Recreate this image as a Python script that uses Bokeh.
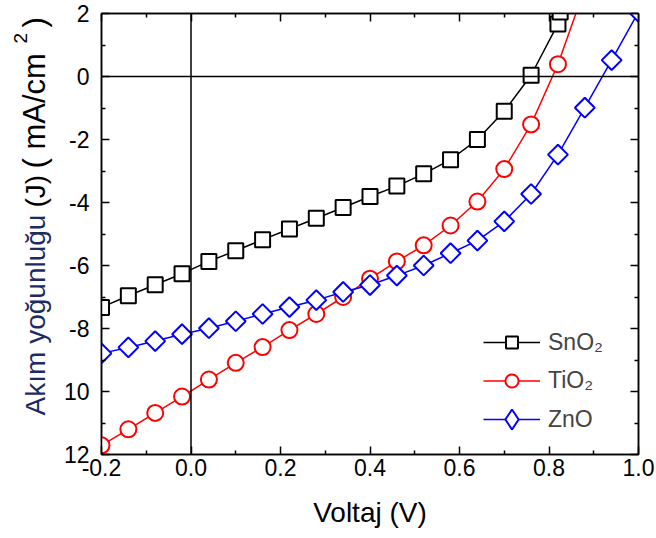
import math
from bokeh.plotting import figure
from bokeh.layouts import row
from bokeh.models import (Range1d, LinearAxis, FixedTicker, CustomJSTickFormatter,
                          Span, Legend, LegendItem)
from bokeh.core.properties import value
from bokeh.embed import file_html
from bokeh.resources import INLINE

# ---------------- data ----------------
sno2_x = [-0.20, -0.14, -0.08, -0.02, 0.04, 0.10, 0.16, 0.22, 0.28, 0.34, 0.40,
          0.46, 0.52, 0.58, 0.64, 0.70, 0.76, 0.82, 0.825]
sno2_y = [-7.33, -6.96, -6.61, -6.26, -5.87, -5.53, -5.18, -4.84, -4.50, -4.16, -3.81,
          -3.48, -3.09, -2.64, -2.00, -1.10, 0.04, 1.67, 2.05]

tio2_x = [-0.20, -0.14, -0.08, -0.02, 0.04, 0.10, 0.16, 0.22, 0.28, 0.34, 0.40,
          0.46, 0.52, 0.58, 0.64, 0.70, 0.76, 0.82, 0.88]
tio2_y = [-11.71, -11.20, -10.68, -10.16, -9.62, -9.09, -8.59, -8.05, -7.54, -7.00, -6.42,
          -5.87, -5.36, -4.73, -3.97, -2.94, -1.52, 0.39, 2.80]

zno_x = [-0.20, -0.14, -0.08, -0.02, 0.04, 0.10, 0.16, 0.22, 0.28, 0.34, 0.40,
         0.46, 0.52, 0.58, 0.64, 0.70, 0.76, 0.82, 0.88, 0.94, 1.00]
zno_y = [-8.79, -8.60, -8.40, -8.18, -7.99, -7.77, -7.54, -7.32, -7.10, -6.84, -6.62,
         -6.32, -6.00, -5.61, -5.21, -4.60, -3.73, -2.48, -0.99, 0.52, 2.05]

series_names = ["SnO\u2082", "TiO\u2082", "ZnO"]

x_ticks = [-0.2, 0.0, 0.2, 0.4, 0.6, 0.8, 1.0]
x_tick_labels = ["-0.2", "0.0", "0.2", "0.4", "0.6", "0.8", "1.0"]
x_minor = [-0.1, 0.1, 0.3, 0.5, 0.7, 0.9]
y_ticks = [-12, -10, -8, -6, -4, -2, 0, 2]
y_tick_labels = ["12", "10", "-8", "-6", "-4", "-2", "0", "2"]
y_minor = [-11, -9, -7, -5, -3, -1, 1]

x_title = "Voltaj (V)"
y_title_parts = ["Akım yoğunluğu", "(J)", "( mA/cm", "2", ")"]
y_title_colors = ["#1d2b64", "black", "black", "black", "black"]
y_title_sizes = ["28px", "28px", "31px", "19px", "31px"]

FONT = "Liberation Sans"
TOTAL_W, TOTAL_H, LEFT_W = 656, 536, 60
B_TOP, B_BOTTOM = 13, 82            # borders above / below the plotting frame

# ---------------- y-title strip (left) ----------------
frame_top, frame_bottom = B_TOP, TOTAL_H - B_BOTTOM
lt = figure(width=LEFT_W, height=TOTAL_H, x_range=Range1d(0, LEFT_W),
            y_range=Range1d(frame_bottom, frame_top), output_backend="svg",
            toolbar_location=None, x_axis_location=None, y_axis_location=None,
            min_border_left=0, min_border_right=0,
            min_border_top=B_TOP, min_border_bottom=B_BOTTOM)
lt.xgrid.visible = False
lt.ygrid.visible = False
lt.outline_line_color = None
lt.background_fill_color = "white"
lt.border_fill_color = "white"
# centre of each part of the rotated title, in page pixels
title_cx = [35.3, 35.3, 34.3, 20.4, 34.3]
title_cy = [314.5, 190.7, 110.3, 37.7, 21.8]
for i, t in enumerate(y_title_parts):
    lt.text(x=[title_cx[i]], y=[title_cy[i]], text=[t], angle=math.pi / 2,
            text_font=value(FONT), text_font_size=value(y_title_sizes[i]),
            text_color=y_title_colors[i], text_align="center", text_baseline="middle")

# ---------------- main figure ----------------
p = figure(width=TOTAL_W - LEFT_W, height=TOTAL_H, x_range=Range1d(-0.2, 1.0),
           y_range=Range1d(-12, 2), output_backend="svg", toolbar_location=None,
           min_border_left=38, min_border_right=18, min_border_top=B_TOP,
           min_border_bottom=B_BOTTOM)
p.xgrid.visible = False
p.ygrid.visible = False
p.outline_line_color = "black"
p.outline_line_width = 1.5
p.background_fill_color = "white"
p.border_fill_color = "white"


def fmt(ticks, labels):
    return CustomJSTickFormatter(args=dict(t=ticks, l=labels), code="""
        for (let i = 0; i < t.length; i++) { if (Math.abs(t[i] - tick) < 1e-6) return l[i]; }
        return '';""")


def style_axis(ax, ticks, minor):
    ax.ticker = FixedTicker(ticks=ticks, minor_ticks=minor)
    ax.major_tick_in = 8
    ax.major_tick_out = 0
    ax.minor_tick_in = 4
    ax.minor_tick_out = 0
    ax.major_tick_line_width = 1.5
    ax.minor_tick_line_width = 1.5
    ax.major_tick_line_color = "black"
    ax.minor_tick_line_color = "black"
    ax.axis_line_width = 1.5
    ax.axis_line_color = "black"
    ax.major_label_text_font = FONT
    ax.major_label_text_font_size = "23px"
    ax.major_label_text_color = "black"


xa = p.xaxis[0]
ya = p.yaxis[0]
style_axis(xa, x_ticks, x_minor)
style_axis(ya, y_ticks, y_minor)
xa.formatter = fmt(x_ticks, x_tick_labels)
ya.formatter = fmt(y_ticks, y_tick_labels)
xa.major_label_standoff = 4
ya.major_label_standoff = 12
xa.axis_label = x_title
xa.axis_label_text_font = FONT
xa.axis_label_text_font_size = "28px"
xa.axis_label_text_font_style = "normal"
xa.axis_label_text_color = "black"
xa.axis_label_standoff = 18

top = LinearAxis(formatter=CustomJSTickFormatter(code="return ''"))
right = LinearAxis(formatter=CustomJSTickFormatter(code="return ''"))
style_axis(top, x_ticks, x_minor)
style_axis(right, y_ticks, y_minor)
for ax in (top, right):
    ax.major_label_text_font_size = "0px"
    ax.major_label_standoff = 0
p.add_layout(top, "above")
p.add_layout(right, "right")

p.add_layout(Span(location=0, dimension="width", line_color="black", line_width=1.5))
p.add_layout(Span(location=0, dimension="height", line_color="black", line_width=1.5))

# ---------------- series ----------------
l1 = p.line(sno2_x, sno2_y, line_color="black", line_width=1.5)
s1 = p.scatter(sno2_x, sno2_y, marker="square", size=15, line_color="black",
               line_width=2, fill_color="white")
l2 = p.line(tio2_x, tio2_y, line_color="#ff0000", line_width=1.5)
s2 = p.scatter(tio2_x, tio2_y, marker="circle", size=16, line_color="#ff0000",
               line_width=2, fill_color="white")
l3 = p.line(zno_x, zno_y, line_color="#0000ff", line_width=1.5)
s3 = p.scatter(zno_x, zno_y, marker="square", size=14, angle=math.pi / 4,
               line_color="#0000ff", line_width=2, fill_color="white")
# same ZnO points as a (hidden) diamond renderer, used only for the legend symbol
s3_leg = p.scatter(zno_x, zno_y, marker="diamond", line_color="#0000ff",
                   line_width=2, fill_color="white", visible=False)

# one legend per entry so each symbol gets its own size
leg_specs = [(series_names[0], [l1, s1], 30, 97),
             (series_names[1], [l2, s2], 33, 57),
             (series_names[2], [l3, s3_leg], 50, 10)]
for name, rends, gh, ly in leg_specs:
    lg = Legend(items=[LegendItem(label=name, renderers=rends)],
                location=(382, ly), glyph_width=57, glyph_height=gh, label_height=gh,
                spacing=0, padding=0, margin=0, label_standoff=8,
                label_text_font=FONT, label_text_font_size="23px",
                border_line_alpha=0, background_fill_alpha=0,
                inactive_fill_alpha=0)
    p.add_layout(lg)

open("out.html", "w").write(file_html(row(lt, p), INLINE))
